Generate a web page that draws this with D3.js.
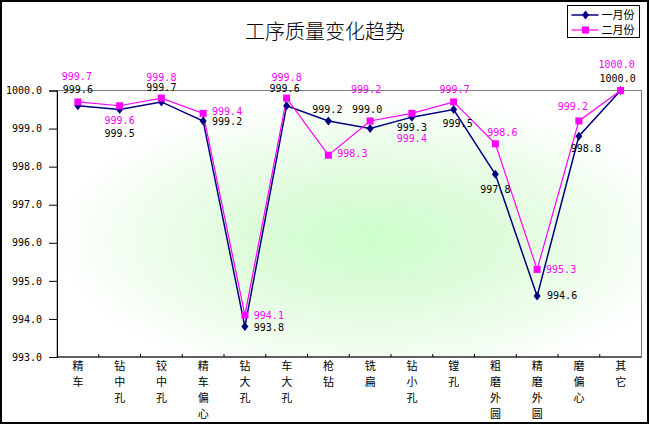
<!DOCTYPE html>
<html>
<head>
<meta charset="utf-8">
<script src="https://cdn.jsdelivr.net/npm/d3@7"></script>
<style>
  html, body { margin: 0; padding: 0; background: #fff; }
  svg { display: block; }
</style>
</head>
<body>
<div id="chart"></div>
<script>
// Categories (process steps) and the two monthly series
const categories = ['精车', '钻中孔', '铰中孔', '精车偏心', '钻大孔', '车大孔', '枪钻', '铣扁',
  '钻小孔', '镗孔', '粗磨外圆', '精磨外圆', '磨偏心', '其它'];
const janValues = [999.6, 999.5, 999.7, 999.2, 993.8, 999.6, 999.2, 999.0, 999.3, 999.5, 997.8, 994.6, 998.8, 1000.0];
const febValues = [999.7, 999.6, 999.8, 999.4, 994.1, 999.8, 998.3, 999.2, 999.4, 999.7, 998.6, 995.3, 999.2, 1000.0];
const yTicks = [993, 994, 995, 996, 997, 998, 999, 1000];
const seriesNames = ['一月份', '二月份'];

// label nudges (relative to the point), mimics where Excel put each label
const janLabelNudge = [[0, -16], [0, 24], [0, -14], [24, 1], [24, 1], [-2, -17], [-1, -11],
  [-3, -19], [0, 10], [4, 14], [0, 15], [25, -1], [7, 12], [-3, -12]];
const febLabelNudge = [[-1, -25], [0, 15], [0, -21], [24, -2], [24, 0], [0, -21], [24, -2],
  [-4, -31], [0, 25], [1, -12], [7, -11], [24, 0], [-6, -14], [-4, -26]];

const W = 650, H = 425;
const plot = { left: 57, right: 641.5, top: 90.5, bottom: 357 };
const numFont = '"DejaVu Sans Mono", "Liberation Mono", monospace';
const cjkFont = '"Noto Sans CJK SC", "Noto Sans", sans-serif';

const svg = d3.select('#chart').append('svg')
  .attr('width', W)
  .attr('height', H);

// outer frame
svg.append('rect')
  .attr('x', 1).attr('y', 1)
  .attr('width', W - 3).attr('height', H - 3)
  .attr('fill', '#fff')
  .attr('stroke', '#000')
  .attr('stroke-width', 2);

// plot area gradient
const defs = svg.append('defs');
const grad = defs.append('radialGradient')
  .attr('id', 'plotBg')
  .attr('cx', 0.54).attr('cy', 0.56).attr('r', 0.55);
grad.append('stop').attr('offset', '0%').attr('stop-color', '#ccffcc');
grad.append('stop').attr('offset', '35%').attr('stop-color', '#dcfbd8');
grad.append('stop').attr('offset', '100%').attr('stop-color', '#ffffff');

svg.append('rect')
  .attr('x', plot.left).attr('y', plot.top)
  .attr('width', plot.right - plot.left).attr('height', plot.bottom - plot.top)
  .attr('fill', 'url(#plotBg)')
  .attr('stroke', '#808080')
  .attr('stroke-width', 1);

// Scales
const x = d3.scaleBand()
  .domain(categories)
  .range([plot.left, plot.right]);

const y = d3.scaleLinear()
  .domain([993, 1000])
  .range([plot.bottom, plot.top]);

const cx = d => x(d) + x.bandwidth() / 2;

// Y axis
const yAxis = svg.append('g')
  .attr('transform', `translate(${plot.left},0)`)
  .call(d3.axisLeft(y).tickValues(yTicks).tickFormat(d3.format('.1f')).tickSize(8).tickPadding(7));
yAxis.select('.domain').attr('stroke', '#000');
yAxis.selectAll('.tick line').attr('stroke', '#000');
yAxis.selectAll('.tick text')
  .attr('fill', '#000')
  .style('font-family', numFont)
  .style('font-size', '10px');

// X axis: inner ticks at category boundaries
const xAxis = svg.append('g')
  .attr('transform', `translate(0,${plot.bottom})`);
xAxis.append('line')
  .attr('x1', plot.left).attr('x2', plot.right)
  .attr('stroke', '#000');
xAxis.selectAll('.xtick')
  .data(categories.slice(1))
  .join('line')
  .attr('class', 'xtick')
  .attr('x1', d => x(d)).attr('x2', d => x(d))
  .attr('y1', 0).attr('y2', -3)
  .attr('stroke', '#000');

// vertical category labels, one character per line
xAxis.selectAll('.xlabel')
  .data(categories)
  .join('text')
  .attr('class', 'xlabel')
  .attr('x', d => cx(d))
  .attr('text-anchor', 'middle')
  .style('font-family', cjkFont)
  .style('font-size', '11px')
  .attr('fill', '#000')
  .each(function(d) {
    const t = d3.select(this);
    Array.from(d).forEach((ch, i) => {
      t.append('tspan')
        .attr('x', cx(d))
        .attr('y', 13 + i * 16)
        .text(ch);
    });
  });

// Title
svg.append('text')
  .attr('x', 325)
  .attr('y', 39)
  .attr('text-anchor', 'middle')
  .style('font-family', cjkFont)
  .style('font-size', '20px')
  .style('font-weight', 300)
  .attr('fill', '#000')
  .text('工序质量变化趋势');

// Series
const series = [
  { name: seriesNames[0], values: janValues, color: '#000080', width: 1.5, marker: 'diamond', nudge: janLabelNudge, labelColor: '#000' },
  { name: seriesNames[1], values: febValues, color: '#ff00ff', width: 1.2, marker: 'square', nudge: febLabelNudge, labelColor: '#ff00ff' }
];

const line = d3.line()
  .x((d, i) => cx(categories[i]))
  .y(d => y(d));

function drawMarker(sel, s) {
  if (s.marker === 'diamond') {
    sel.append('path')
      .attr('d', 'M0,-4.5L3.5,0L0,4.5L-3.5,0Z')
      .attr('fill', s.color);
  } else {
    sel.append('rect')
      .attr('x', -3.5).attr('y', -3.5)
      .attr('width', 7).attr('height', 7)
      .attr('fill', s.color);
  }
}

series.forEach(s => {
  svg.append('path')
    .attr('fill', 'none')
    .attr('stroke', s.color)
    .attr('stroke-width', s.width)
    .attr('d', line(s.values));
});

series.forEach(s => {
  s.values.forEach((v, i) => {
    const g = svg.append('g')
      .attr('transform', `translate(${cx(categories[i])},${y(v)})`);
    drawMarker(g, s);
  });
});

// data labels
series.forEach(s => {
  svg.selectAll(null)
    .data(s.values)
    .join('text')
    .attr('x', (d, i) => cx(categories[i]) + s.nudge[i][0])
    .attr('y', (d, i) => y(d) + s.nudge[i][1])
    .attr('dy', '0.35em')
    .attr('text-anchor', 'middle')
    .style('font-family', numFont)
    .style('font-size', '10px')
    .attr('fill', s.labelColor)
    .text(d => d3.format('.1f')(d));
});

// Legend
const legend = svg.append('g').attr('transform', 'translate(567.5,5.5)');
legend.append('rect')
  .attr('width', 72).attr('height', 32)
  .attr('fill', '#fff')
  .attr('stroke', '#000');
series.forEach((s, i) => {
  const row = legend.append('g').attr('transform', `translate(0,${9.5 + i * 15})`);
  row.append('line')
    .attr('x1', 4).attr('x2', 31)
    .attr('stroke', s.color)
    .attr('stroke-width', s.width);
  const m = row.append('g').attr('transform', 'translate(18,0)');
  drawMarker(m, s);
  row.append('text')
    .attr('x', 34)
    .attr('dy', '0.36em')
    .style('font-family', cjkFont)
    .style('font-size', '11px')
    .attr('fill', '#000')
    .text(s.name);
});
</script>
</body>
</html>
